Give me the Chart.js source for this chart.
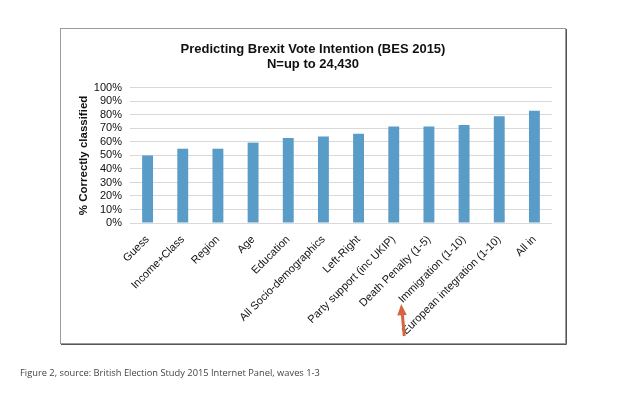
<!DOCTYPE html>
<html>
<head>
<meta charset="utf-8">
<script src="https://cdn.jsdelivr.net/npm/chart.js@4/dist/chart.umd.min.js"></script>
<style>
  html, body { margin: 0; padding: 0; background: #fff; }
  #wrap { position: relative; width: 622px; height: 398px; }
  #caption {
    position: absolute; left: 20px; top: 366px;
    font: 9.3px "Open Sans", sans-serif; color: #444; white-space: nowrap;
  }
</style>
</head>
<body>
<div id="wrap">
  <canvas id="brexit-chart" width="622" height="398"></canvas>
  <div id="caption">Figure 2, source: British Election Study 2015 Internet Panel, waves 1-3</div>
</div>
<script>
// Predictors and share of respondents correctly classified (%)
const categories = [
    'Guess', 'Income+Class', 'Region', 'Age', 'Education', 'All Socio-demographics',
    'Left-Right', 'Party support (inc UKIP)', 'Death Penalty (1-5)', 'Immigration (1-10)',
    'European integration (1-10)', 'All in'
];
const correctlyClassified = [50, 55, 55, 59.5, 63, 64, 66, 71.5, 71.5, 72.5, 79, 83];
const titleLines = ['Predicting Brexit Vote Intention (BES 2015)', 'N=up to 24,430'];
const yAxisTitle = '% Correctly classified';
const arrowCategory = 'Party support (inc UKIP)';

// Frame round the chart plus the orange arrow under the x labels.
const decorations = {
    id: 'decorations',
    beforeDraw(chart) {
        const c = chart.ctx;
        c.save();
        c.strokeStyle = '#9a9a9a';
        c.lineWidth = 1;
        c.strokeRect(60.5, 28.5, 505, 315);
        c.strokeStyle = '#555';
        c.beginPath();
        c.moveTo(566.5, 29);
        c.lineTo(566.5, 344.5);
        c.lineTo(61, 344.5);
        c.stroke();
        c.restore();
    },
    afterDraw(chart) {
        const c = chart.ctx;
        const x = chart.scales.x.getPixelForValue(categories.indexOf(arrowCategory)) + 9;
        c.save();
        c.strokeStyle = '#d6653f';
        c.fillStyle = '#d6653f';
        c.lineWidth = 3;
        c.beginPath();
        c.moveTo(x + 1.5, 336);
        c.lineTo(x - 0.5, 313);
        c.stroke();
        c.beginPath();
        c.moveTo(x - 1.5, 304);
        c.lineTo(x + 4, 315);
        c.lineTo(x - 5.5, 315.5);
        c.closePath();
        c.fill();
        c.restore();
    }
};

const ctx = document.getElementById('brexit-chart').getContext('2d');
new Chart(ctx, {
    type: 'bar',
    data: {
        labels: categories,
        datasets: [{
            data: correctlyClassified,
            backgroundColor: '#5a9cc8',
            categoryPercentage: 1,
            barPercentage: 0.31
        }]
    },
    options: {
        responsive: false,
        animation: false,
        layout: { padding: { top: 30, left: 74, right: 70, bottom: 54 } },
        plugins: {
            legend: { display: false },
            tooltip: { enabled: false },
            title: {
                display: true,
                text: titleLines,
                color: '#111',
                font: { family: 'Liberation Sans, Arial', size: 13, weight: 'bold', lineHeight: 1.15 },
                padding: { top: 12, bottom: 16 }
            }
        },
        scales: {
            x: {
                grid: { display: false },
                border: { display: false },
                ticks: {
                    color: '#111',
                    font: { family: 'Liberation Sans, Arial', size: 11 },
                    minRotation: 45,
                    maxRotation: 45,
                    autoSkip: false,
                    padding: 2
                },
                afterFit(scale) { scale.height = 121; }
            },
            y: {
                min: 0,
                max: 100,
                grid: { color: '#d9d9d9', drawTicks: false },
                border: { display: false },
                ticks: {
                    stepSize: 10,
                    autoSkip: false,
                    color: '#111',
                    padding: 8,
                    font: { family: 'Liberation Sans, Arial', size: 11 },
                    callback: v => v + '%'
                },
                title: {
                    display: true,
                    text: yAxisTitle,
                    color: '#111',
                    font: { family: 'Liberation Sans, Arial', size: 11.5, weight: 'bold' },
                    padding: { top: 3, bottom: 0 }
                },
                afterFit(scale) { scale.width = 56; }
            }
        }
    },
    plugins: [decorations]
});
</script>
</body>
</html>
